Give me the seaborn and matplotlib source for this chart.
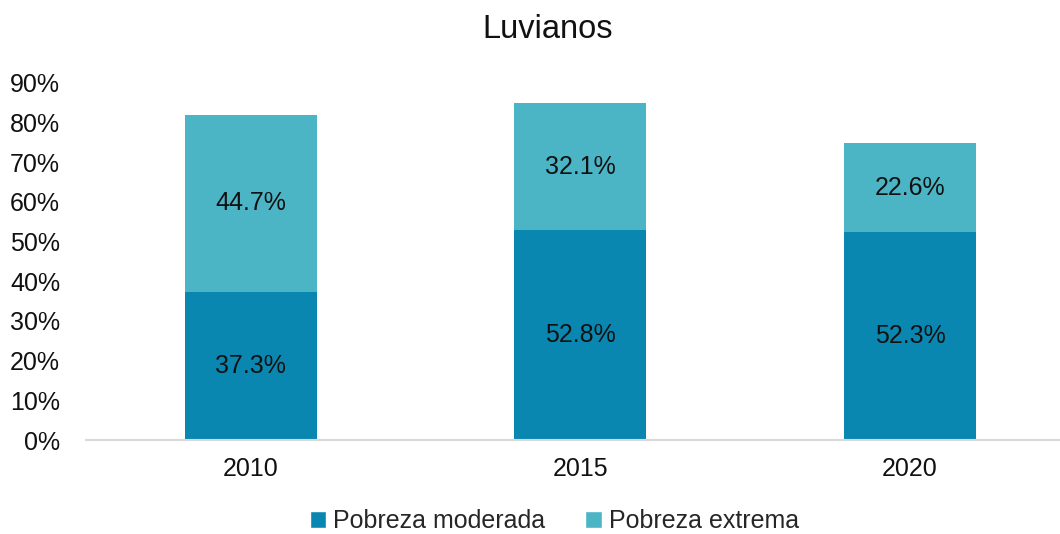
import matplotlib
matplotlib.use("Agg")
import matplotlib.pyplot as plt
import seaborn as sns
import pandas as pd
from matplotlib.patches import Patch

years = ["2010", "2015", "2020"]
moderada = [37.3, 52.8, 52.3]
extrema = [44.7, 32.1, 22.6]
yticks = [0, 10, 20, 30, 40, 50, 60, 70, 80, 90]

c_mod = "#0A87B1"
c_ext = "#4BB5C6"

sns.set_theme(style="white")
plt.rcParams["font.family"] = ["Liberation Sans", "DejaVu Sans"]

df = pd.DataFrame({"year": years, "moderada": moderada, "extrema": extrema})
df["total"] = df["moderada"] + df["extrema"]

fig = plt.figure(figsize=(10.6, 5.34), dpi=100)
ax = fig.add_axes([0.081, 0.176, 0.933, 0.669])

# stacked bars: total (extreme on top) drawn first, moderate drawn over it
sns.barplot(data=df, x="year", y="total", color=c_ext, width=0.4,
            saturation=1, ax=ax, linewidth=0)
sns.barplot(data=df, x="year", y="moderada", color=c_mod, width=0.4,
            saturation=1, ax=ax, linewidth=0)

fs = 18
for i, (m, e) in enumerate(zip(moderada, extrema)):
    ax.text(i, m / 2, f"{m:.1f}%", ha="center", va="center",
            fontsize=fs, color="#111111")
    ax.text(i, m + e / 2, f"{e:.1f}%", ha="center", va="center",
            fontsize=fs, color="#111111")

ax.set_ylim(0, 90)
ax.set_xlim(-0.5, 2.5)
ax.set_yticks(yticks)
ax.set_yticklabels([f"{t}%" for t in yticks], fontsize=fs, color="#111111")
ax.tick_params(axis="x", labelsize=fs, colors="#111111", pad=12, length=0)
ax.tick_params(axis="y", length=0, pad=18.5)
ax.set_xlabel("")
ax.set_ylabel("")
for s in ["top", "right", "left"]:
    ax.spines[s].set_visible(False)
ax.spines["bottom"].set_color("#D9D9D9")
ax.spines["bottom"].set_linewidth(1.5)

fig.text(0.517, 0.945, "Luvianos", ha="center", va="center",
         fontsize=23.5, color="#111111")

handles = [Patch(facecolor=c_mod, label="Pobreza moderada"),
           Patch(facecolor=c_ext, label="Pobreza extrema")]
fig.legend(handles=handles, loc="center", bbox_to_anchor=(0.523, 0.024),
           ncol=2, frameon=False, fontsize=fs, handlelength=0.65,
           handleheight=0.65, handletextpad=0.3, columnspacing=1.6,
           borderpad=0.1)

fig.savefig("out.png", dpi=100)
